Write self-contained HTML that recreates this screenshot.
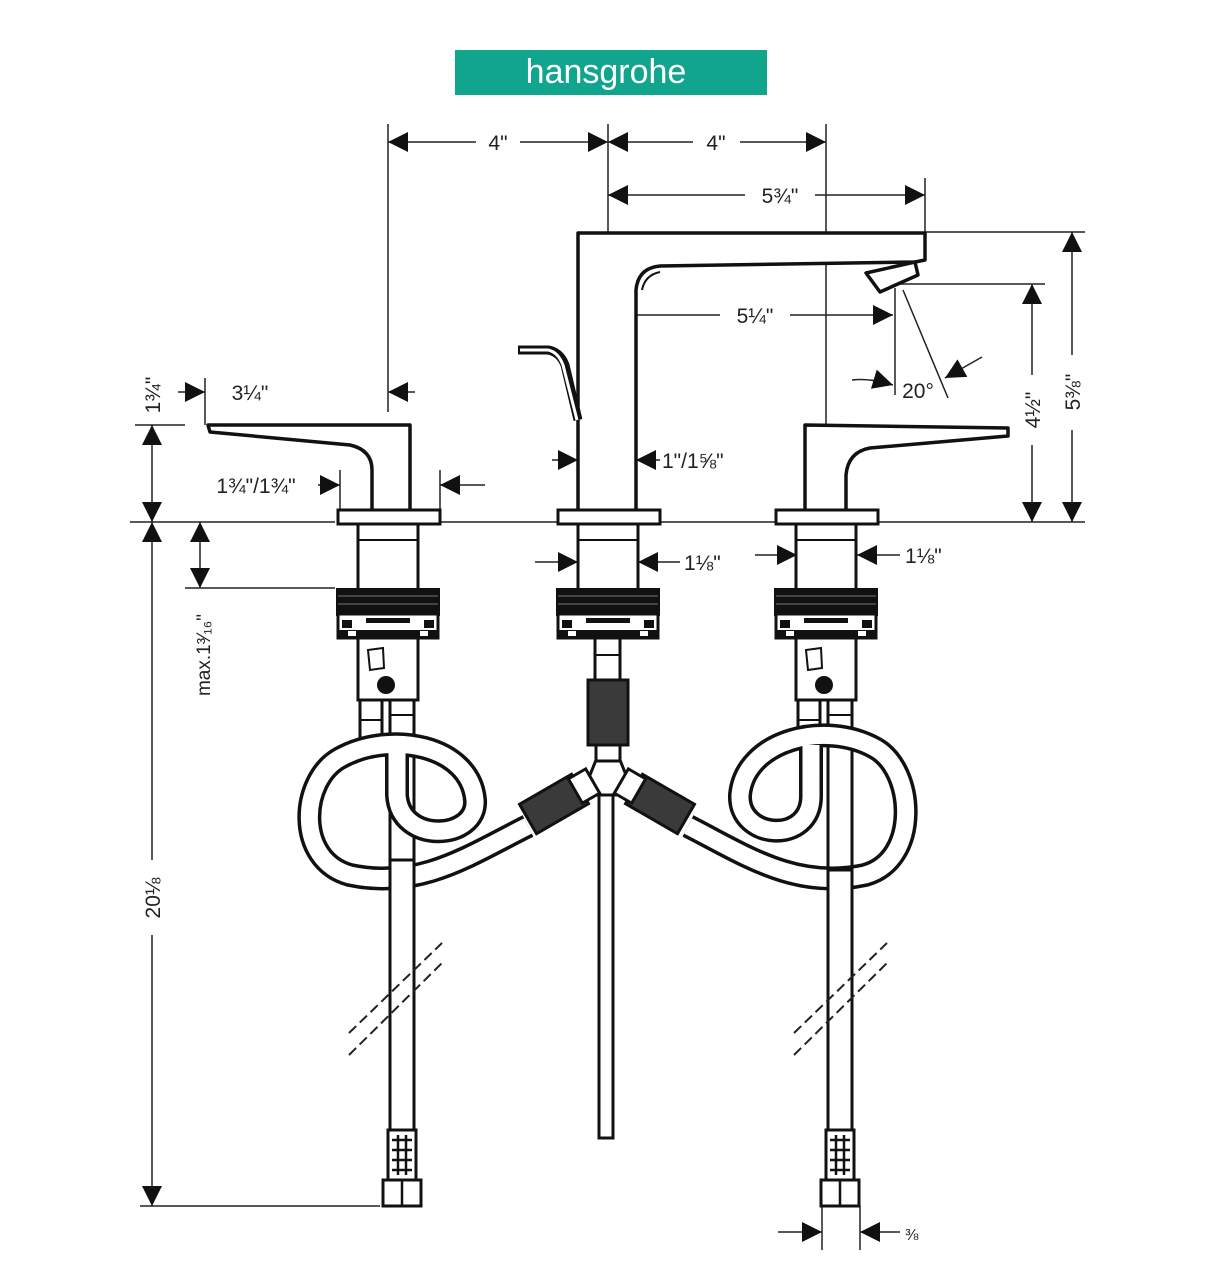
<!DOCTYPE html>
<html><head><meta charset="utf-8"><style>
html,body{margin:0;padding:0;background:#fff;}
svg{display:block;}
text{font-family:"Liberation Sans",sans-serif;fill:#222;}
</style></head><body>
<svg width="1230" height="1280" viewBox="0 0 1230 1280" xmlns="http://www.w3.org/2000/svg">
<defs>
<marker id="a" viewBox="0 0 10 10" refX="10" refY="5" markerWidth="9" markerHeight="9" markerUnits="userSpaceOnUse" orient="auto-start-reverse"><path d="M0,0 L10,5 L0,10 z" fill="#111"/></marker>
<marker id="b" viewBox="0 0 10 10" refX="10" refY="5" markerWidth="22" markerHeight="20" markerUnits="userSpaceOnUse" orient="auto-start-reverse"><path d="M0,0 L10,5 L0,10 z" fill="#111"/></marker>
<g id="valve">
 <rect x="-50" y="510" width="102" height="14" fill="#fff" stroke="#111" stroke-width="3"/>
 <rect x="-30" y="524" width="60" height="66" fill="#fff" stroke="#111" stroke-width="3"/>
 <line x1="-30" y1="540" x2="30" y2="540" stroke="#111" stroke-width="2"/>
 <rect x="-52" y="588" width="104" height="28" fill="#111"/>
 <line x1="-50" y1="596" x2="50" y2="596" stroke="#555" stroke-width="1.5"/>
 <line x1="-50" y1="604" x2="50" y2="604" stroke="#555" stroke-width="1.5"/>
 <rect x="-50" y="614" width="100" height="24" fill="#fff" stroke="#111" stroke-width="3"/>
 <rect x="-46" y="620" width="10" height="8" fill="#111"/><rect x="36" y="620" width="10" height="8" fill="#111"/>
 <rect x="-22" y="618" width="44" height="5" fill="#111"/>
 <rect x="-50" y="630" width="100" height="8" fill="#111"/>
 <rect x="-40" y="631" width="8" height="5" fill="#fff"/><rect x="32" y="631" width="8" height="5" fill="#fff"/>
</g>
<g id="lower">
 <rect x="-30" y="638" width="60" height="62" fill="#fff" stroke="#111" stroke-width="3"/>
 <path d="M-20,650 L-5,648 L-4,668 L-18,670 z" fill="none" stroke="#111" stroke-width="2"/>
 <circle cx="-2" cy="685" r="9" fill="#111"/>
 <rect x="-28" y="700" width="22" height="48" fill="#fff" stroke="#111" stroke-width="3"/>
 <line x1="-28" y1="720" x2="-6" y2="720" stroke="#111" stroke-width="2"/>
 <rect x="2" y="700" width="24" height="430" fill="#fff" stroke="#111" stroke-width="3"/>
 <line x1="2" y1="715" x2="26" y2="715" stroke="#111" stroke-width="2"/>
 <rect x="0" y="1130" width="28" height="50" fill="#fff" stroke="#111" stroke-width="3"/>
 <path d="M4,1140 h20 M4,1150 h20 M4,1160 h20 M4,1170 h20 M10,1135 v40 M18,1135 v40" stroke="#111" stroke-width="2.5"/>
 <rect x="-5" y="1180" width="38" height="26" fill="#fff" stroke="#111" stroke-width="3"/>
 <line x1="14" y1="1180" x2="14" y2="1206" stroke="#111" stroke-width="2.5"/>
</g>
</defs>

<!-- logo -->
<rect x="455" y="50" width="312" height="45" fill="#12a58d"/>
<text x="606" y="83" font-size="34" text-anchor="middle" style="fill:#fff">hansgrohe</text>

<!-- extension lines -->
<g stroke="#222" stroke-width="1.5" fill="none">
 <line x1="388" y1="124" x2="388" y2="412"/>
 <line x1="608" y1="124" x2="608" y2="330"/>
 <line x1="826" y1="124" x2="826" y2="425"/>
 <line x1="925" y1="178" x2="925" y2="232"/>
 <line x1="925" y1="232" x2="1085" y2="232"/>
 <line x1="900" y1="284" x2="1045" y2="284"/>
 <line x1="895" y1="288" x2="895" y2="395"/>
 <line x1="903" y1="290" x2="948" y2="398"/>
 <line x1="130" y1="522" x2="335" y2="522"/>
 <line x1="440" y1="522" x2="1085" y2="522"/>
 <line x1="185" y1="588" x2="335" y2="588"/>
 <line x1="135" y1="425" x2="185" y2="425"/>
 <line x1="140" y1="1206" x2="380" y2="1206"/>
 <line x1="822" y1="1206" x2="822" y2="1250"/>
 <line x1="860" y1="1206" x2="860" y2="1250"/>
 <line x1="205" y1="378" x2="205" y2="425"/>
 <line x1="340" y1="470" x2="340" y2="510"/>
 <line x1="440" y1="470" x2="440" y2="510"/>
</g>

<!-- dimension lines -->
<g stroke="#222" stroke-width="1.5" fill="none">
 <line x1="388" y1="142" x2="476" y2="142" marker-start="url(#b)"/><line x1="520" y1="142" x2="608" y2="142" marker-end="url(#b)"/>
 <line x1="608" y1="142" x2="693" y2="142" marker-start="url(#b)"/><line x1="740" y1="142" x2="826" y2="142" marker-end="url(#b)"/>
 <line x1="608" y1="195" x2="745" y2="195" marker-start="url(#b)"/><line x1="815" y1="195" x2="925" y2="195" marker-end="url(#b)"/>
 <line x1="608" y1="315" x2="720" y2="315" marker-start="url(#b)"/><line x1="790" y1="315" x2="893" y2="315" marker-end="url(#b)"/>
 <line x1="1072" y1="232" x2="1072" y2="355" marker-start="url(#b)"/><line x1="1072" y1="430" x2="1072" y2="522" marker-end="url(#b)"/>
 <line x1="1032" y1="284" x2="1032" y2="375" marker-start="url(#b)"/><line x1="1032" y1="445" x2="1032" y2="522" marker-end="url(#b)"/>
 <line x1="152" y1="425" x2="152" y2="522" marker-start="url(#b)" marker-end="url(#b)"/>
 <line x1="152" y1="522" x2="152" y2="860" marker-start="url(#b)"/><line x1="152" y1="935" x2="152" y2="1206" marker-end="url(#b)"/>
 <line x1="200" y1="522" x2="200" y2="588" marker-start="url(#b)" marker-end="url(#b)"/>
 <line x1="178" y1="392" x2="205" y2="392" marker-end="url(#b)"/>
 <line x1="415" y1="392" x2="388" y2="392" marker-end="url(#b)"/>
 <line x1="318" y1="485" x2="340" y2="485" marker-end="url(#b)"/>
 <line x1="485" y1="485" x2="440" y2="485" marker-end="url(#b)"/>
 <line x1="552" y1="460" x2="578" y2="460" marker-end="url(#b)"/>
 <line x1="660" y1="460" x2="636" y2="460" marker-end="url(#b)"/>
 <line x1="535" y1="562" x2="578" y2="562" marker-end="url(#b)"/>
 <line x1="680" y1="562" x2="638" y2="562" marker-end="url(#b)"/>
 <line x1="755" y1="555" x2="797" y2="555" marker-end="url(#b)"/>
 <line x1="900" y1="555" x2="857" y2="555" marker-end="url(#b)"/>
 <path d="M852,380 Q870,378 893,385" marker-end="url(#b)"/>
 <line x1="982" y1="357" x2="945" y2="378" marker-end="url(#b)"/>
 <line x1="778" y1="1232" x2="822" y2="1232" marker-end="url(#b)"/>
 <line x1="900" y1="1232" x2="860" y2="1232" marker-end="url(#b)"/>
</g>

<!-- labels -->
<g font-size="21">
 <text x="498" y="150" text-anchor="middle">4"</text>
 <text x="716" y="150" text-anchor="middle">4"</text>
 <text x="780" y="203" text-anchor="middle">5¾"</text>
 <text x="755" y="323" text-anchor="middle">5¼"</text>
 <text x="918" y="398" text-anchor="middle">20°</text>
 <text x="250" y="400" text-anchor="middle">3¼"</text>
 <text x="256" y="493" text-anchor="middle">1¾"/1¾"</text>
 <text x="662" y="468">1"/1⅝"</text>
 <text x="684" y="570">1⅛"</text>
 <text x="905" y="563">1⅛"</text>
 <text x="905" y="1240" font-size="16">⅜</text>
 <text transform="translate(1080,392) rotate(-90)" text-anchor="middle">5⅜"</text>
 <text transform="translate(1040,410) rotate(-90)" text-anchor="middle">4½"</text>
 <text transform="translate(160,395) rotate(-90)" text-anchor="middle">1¾"</text>
 <text transform="translate(160,898) rotate(-90)" text-anchor="middle">20⅛</text>
 <text transform="translate(210,655) rotate(-90)" text-anchor="middle" font-size="19">max.1³⁄₁₆"</text>
</g>

<!-- spout -->
<g stroke="#111" stroke-width="3.5" fill="#fff" stroke-linejoin="round">
 <path d="M578,512 L578,233 L925,233 L925,260 L915,262 L660,266 Q638,268 636,290 L636,512"/>
 <path d="M660,272 Q645,275 642,290" fill="none" stroke-width="2"/>
 <path d="M866,273 L915,262 L918,275 L880,292 z" fill="#fff"/>
 <path d="M518,350 L548,350 Q560,352 565,365 L578,420" fill="none" stroke-width="9"/>
 <path d="M520,350 L548,350 Q558,352 563,365 L577,420" fill="none" stroke="#fff" stroke-width="3"/>
</g>
<!-- side handles -->
<g stroke="#111" stroke-width="3.5" fill="#fff" stroke-linejoin="round">
 <path d="M410,512 L410,425 L208,425 L210,432 L350,445 Q372,450 372,470 L372,512"/>
 <path d="M805,512 L805,425 L1008,428 L1008,436 L870,448 Q848,452 846,475 L846,512"/>
</g>

<!-- valves -->
<use href="#valve" x="388"/>
<use href="#valve" x="608"/>
<use href="#valve" x="826"/>
<use href="#lower" x="388"/>
<use href="#lower" x="826"/>

<!-- center -->
<g stroke="#111" stroke-width="3" fill="#fff">
 <rect x="595" y="638" width="25" height="42"/>
 <line x1="595" y1="655" x2="620" y2="655" stroke-width="2"/>
 <rect x="599" y="775" width="14" height="363"/>
 <rect x="588" y="680" width="40" height="65" fill="#3a3a3a"/>
 <path d="M596,760 L620,760 L628,780 L620,795 L596,795 L588,780 z"/>
 <rect x="596" y="745" width="24" height="16"/>
</g>
<g stroke="#111" stroke-width="3" fill="#3a3a3a">
 <rect x="-30" y="-17" width="60" height="34" transform="translate(554,804) rotate(-30)"/>
 <rect x="-30" y="-17" width="60" height="34" transform="translate(660,804) rotate(30)"/>
</g>
<g stroke="#111" stroke-width="3" fill="#fff">
 <rect x="-10" y="-14" width="20" height="28" transform="translate(584,786) rotate(-30)"/>
 <rect x="-10" y="-14" width="20" height="28" transform="translate(630,786) rotate(30)"/>
</g>

<!-- hoses -->
<g fill="none" stroke-linecap="butt">
 <path id="hl" d="M528,826 C470,855 420,890 350,875 C295,860 300,780 340,758 C390,730 470,745 475,800 C478,840 400,845 397,795 L397,745" stroke="#111" stroke-width="24"/>
 <path d="M528,826 C470,855 420,890 350,875 C295,860 300,780 340,758 C390,730 470,745 475,800 C478,840 400,845 397,795 L397,745" stroke="#fff" stroke-width="17"/>
 <path d="M688,826 C745,855 795,890 865,875 C920,860 915,770 875,748 C825,720 745,740 740,795 C738,840 812,845 811,795 L811,745" stroke="#111" stroke-width="24"/>
 <path d="M688,826 C745,855 795,890 865,875 C920,860 915,770 875,748 C825,720 745,740 740,795 C738,840 812,845 811,795 L811,745" stroke="#fff" stroke-width="17"/>
</g>
<!-- redraw long tubes over hoses -->
<g stroke="#111" stroke-width="3" fill="#fff">
 <rect x="390" y="860" width="24" height="270"/>
 <rect x="828" y="870" width="24" height="260"/>
</g>
<!-- break lines -->
<g stroke="#222" stroke-width="2" stroke-dasharray="10,5">
 <line x1="349" y1="1033" x2="442" y2="943"/>
 <line x1="349" y1="1055" x2="442" y2="963"/>
 <line x1="794" y1="1033" x2="887" y2="943"/>
 <line x1="794" y1="1055" x2="887" y2="963"/>
</g>
</svg>
</body></html>
